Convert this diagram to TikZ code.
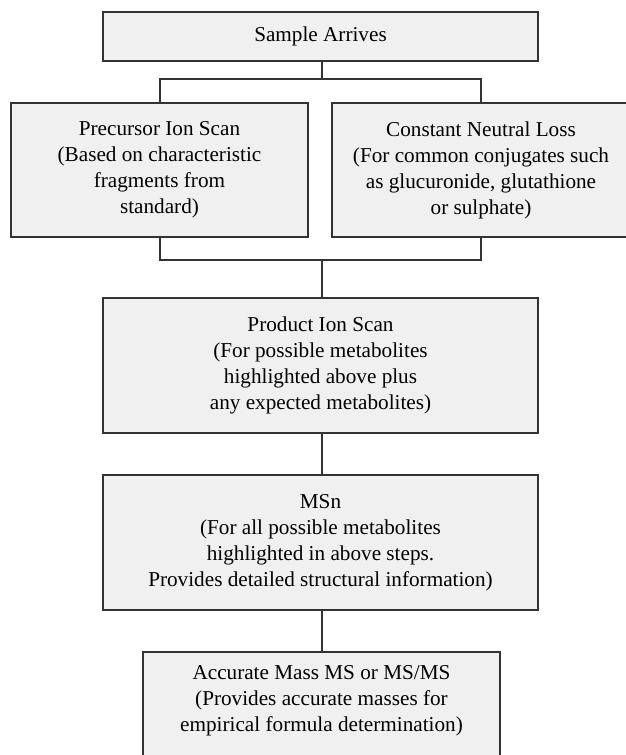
\documentclass[tikz,border=0pt]{standalone}
\usepackage{fontspec}
\setmainfont{Liberation Serif}
\definecolor{boxfill}{HTML}{F0F0F0}
\definecolor{linec}{HTML}{333333}
\begin{document}
\begin{tikzpicture}[x=1pt,y=1pt,
  flowbox/.style={draw=linec, fill=boxfill, line width=2pt, inner sep=0pt,
    align=center, font=\fontsize{21.2}{26}\selectfont},
  plaintext/.style={inner sep=0pt, align=center, font=\fontsize{21.2}{26}\selectfont},
  conn/.style={draw=linec, line width=2pt}]
\useasboundingbox (0,0) rectangle (625,-755);
\fill[white] (0,0) rectangle (625,-755);

\node[flowbox, minimum width=435pt, minimum height=49pt] (sample) at (320.5,-36.5) {Sample Arrives};

\node[flowbox, minimum width=297pt, minimum height=134pt] (prec) at (159.5,-170)
  {Precursor Ion Scan\\(Based on characteristic\\fragments from\\standard)};
\node[flowbox, minimum width=298pt, minimum height=134pt] (cnl) at (481,-170)
  {Constant Neutral Loss\\(For common conjugates such\\as glucuronide, glutathione\\or sulphate)};

\node[flowbox, minimum width=435pt, minimum height=135pt] (prod) at (320.5,-365.5)
  {Product Ion Scan\\(For possible metabolites\\highlighted above plus\\any expected metabolites)};

\node[flowbox, minimum width=435pt, minimum height=135pt] (msn) at (320.5,-542.5)
  {MSn\\(For all possible metabolites\\highlighted in above steps.\\Provides detailed structural information)};

\node[flowbox, minimum width=357pt, minimum height=120pt] (acc) at (321.5,-712) {};
\node[plaintext] (acctext) at (321.5,-701)
  {Accurate Mass MS or MS/MS\\(Provides accurate masses for\\empirical formula determination)};

\coordinate (j1) at (322,-79);
\coordinate (j2) at (322,-260);
\draw[conn] (sample.south -| j1) -- (j1);
\draw[conn] (prec.north) |- (j1) -| (cnl.north);
\draw[conn] (prec.south) |- (j2) -| (cnl.south);
\draw[conn] (j2) -- (prod.north -| j2);
\draw[conn] (prod.south -| j2) -- (msn.north -| j2);
\draw[conn] (msn.south -| j2) -- (acc.north -| j2);
\end{tikzpicture}
\end{document}
